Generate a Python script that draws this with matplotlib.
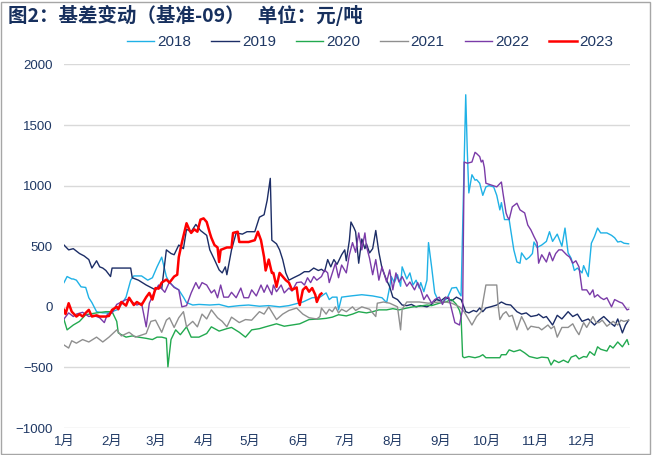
import matplotlib.pyplot as plt
from matplotlib.patches import Rectangle

plt.rcParams['font.family'] = ['Liberation Sans', 'Noto Sans CJK SC', 'DejaVu Sans']

months = ['1月', '2月', '3月', '4月', '5月', '6月', '7月', '8月', '9月', '10月', '11月', '12月']
month_start = [0, 31, 59, 90, 120, 151, 181, 212, 243, 273, 304, 334]

# day of year / basis value (元/吨)
d2018 = [0, 2, 5, 6, 8, 11, 14, 16, 18, 21, 25, 29, 35, 40, 43, 45, 50, 54, 57, 60, 63, 66, 68, 71, 74, 77,
         79, 83, 87, 94, 100, 106, 113, 119, 126, 132, 139, 145, 154, 160, 165, 169, 171, 173, 176, 177, 179,
         185, 192, 199, 205, 208, 210, 211, 213, 215, 217, 218, 221, 223, 225, 227, 229, 230, 232, 234, 235,
         237, 239, 241, 244, 247, 250, 253, 255, 256, 259, 260, 261, 263, 265, 266, 268, 270, 272, 274, 277,
         279, 281, 282, 284, 287, 288, 290, 292, 294, 295, 298, 300, 302, 303, 305, 308, 311, 313, 315, 318,
         321, 323, 325, 327, 329, 331, 334, 335, 338, 340, 342, 344, 346, 350, 353, 355, 357, 359, 361, 364]
v2018 = [200, 250, 230, 230, 220, 165, 160, 75, 35, -40, -50, -50, -20, 80, 220, 255, 255, 220, 240, 330, 410,
         250, 200, 165, 140, 80, 35, 15, 20, 15, 20, 0, 10, 15, 5, 10, 0, 10, 40, 75, 80, 115, 60, 80, 80, -25,
         80, 90, 100, 90, 75, 35, 165, 250, 200, 265, 170, 330, 230, 280, 180, 220, 155, 200, 125, 220, 530,
         330, 115, 60, 40, 70, 155, 160, 110, 90, 1750, 1290, 940, 1090, 1045, 1050, 1020, 920, 990, 1000, 990,
         920, 800, 860, 720, 720, 635, 470, 370, 360, 445, 390, 410, 440, 535, 490, 510, 540, 620, 540, 600,
         500, 650, 445, 400, 300, 320, 280, 340, 250, 525, 580, 650, 610, 610, 590, 570, 535, 540, 525, 520]

d2019 = [0, 3, 6, 10, 13, 16, 18, 21, 23, 25, 27, 30, 31, 43, 44, 48, 53, 56, 59, 61, 63, 66, 69, 71, 74, 77,
         79, 82, 85, 88, 92, 94, 97, 100, 102, 104, 105, 108, 111, 115, 118, 123, 126, 129, 131, 133, 134,
         137, 139, 141, 143, 145, 148, 152, 155, 158, 161, 164, 166, 168, 170, 172, 174, 176, 179, 181, 182,
         184, 185, 187, 188, 190, 192, 194, 195, 197, 199, 201, 203, 205, 208, 210, 212, 215, 218, 221, 224,
         227, 230, 234, 237, 240, 243, 246, 250, 253, 256, 259, 261, 264, 266, 268, 270, 272, 275, 279, 282,
         285, 288, 292, 295, 298, 301, 305, 306, 309, 311, 315, 318, 321, 325, 328, 331, 334, 338, 342, 345,
         348, 352, 355, 357, 360, 362, 364]
v2019 = [510, 470, 480, 440, 420, 390, 320, 380, 330, 320, 300, 250, 320, 320, 240, 220, 180, 160, 140, 170,
         150, 470, 440, 430, 510, 480, 640, 620, 680, 630, 590, 470, 390, 305, 280, 330, 265, 470, 610, 600,
         620, 620, 740, 760, 880, 1060, 550, 520, 470, 390, 280, 220, 240, 265, 290, 290, 320, 300, 310, 290,
         390, 330, 390, 350, 430, 470, 380, 550, 700, 650, 620, 360, 560, 480, 520, 445, 480, 630, 450, 320,
         220, 165, 80, 60, 15, 10, 20, 0, 10, 0, 20, 60, 50, 80, 50, 80, 60, -40, -50, -30, -40, -10, -40, -10,
         0, 15, 40, 20, 15, -40, -60, -50, -80, -70, -60, -90, -80, -150, -70, -100, -40, -80, -60, -120, -100,
         -150, -110, -80, -130, -160, -100, -215, -150, -110]

d2020 = [0, 2, 5, 6, 10, 14, 21, 27, 31, 34, 35, 37, 40, 44, 48, 53, 57, 60, 63, 66, 67, 69, 72, 75, 79, 82,
         87, 92, 95, 100, 105, 108, 113, 117, 121, 126, 130, 137, 142, 147, 152, 158, 165, 169, 173, 177, 182,
         186, 190, 195, 199, 203, 208, 212, 216, 221, 225, 229, 234, 237, 242, 246, 250, 253, 255, 256, 257,
         258, 261, 265, 268, 270, 272, 277, 281, 282, 285, 287, 290, 294, 297, 300, 305, 308, 312, 314, 316,
         319, 322, 325, 327, 330, 332, 335, 337, 339, 342, 344, 346, 350, 352, 354, 357, 360, 363, 364]
v2020 = [-105, -190, -160, -150, -120, -65, -50, -40, -40, -120, -215, -230, -250, -240, -250, -260, -270,
         -250, -250, -260, -495, -270, -190, -230, -165, -250, -250, -220, -165, -200, -180, -170, -210, -250,
         -190, -180, -165, -140, -160, -150, -140, -105, -100, -95, -85, -65, -75, -60, -40, -50, -40, -25,
         -25, -15, -25, -10, 0, 5, 15, 10, 30, 40, 60, 20, -30, -80, -410, -420, -410, -420, -410, -395, -420,
         -420, -420, -395, -395, -355, -370, -355, -380, -410, -425, -415, -420, -480, -440, -460, -440, -460,
         -415, -400, -430, -410, -415, -370, -400, -330, -350, -365, -320, -340, -290, -330, -270, -310]

d2021 = [0, 3, 5, 8, 12, 16, 21, 25, 29, 34, 37, 42, 46, 53, 56, 59, 63, 66, 68, 71, 74, 77, 79, 83, 86, 89,
         92, 95, 99, 102, 105, 108, 113, 117, 121, 126, 129, 132, 137, 141, 145, 150, 154, 158, 163, 165, 166,
         169, 171, 173, 175, 177, 179, 182, 186, 188, 192, 197, 201, 202, 206, 210, 215, 217, 218, 221, 229,
         235, 242, 246, 250, 255, 258, 263, 266, 269, 272, 279, 280, 281, 283, 285, 287, 289, 292, 295, 297,
         299, 301, 305, 306, 308, 312, 314, 316, 318, 321, 325, 328, 330, 332, 335, 337, 341, 343, 345, 347,
         350, 354, 357, 359, 361, 364]
v2021 = [-315, -340, -280, -300, -270, -290, -250, -290, -250, -190, -240, -210, -250, -220, -120, -110, -210,
         -110, -90, -170, -90, -40, -165, -120, -165, -60, -100, -25, -90, -120, -165, -85, -130, -105, -110,
         -40, -60, 0, -105, -60, -30, -10, -60, -90, -100, -80, -10, -60, -20, -40, 0, -50, -20, -40, 0, -30,
         0, -20, -80, 30, 40, 30, 0, -190, -20, 40, 40, 30, 40, 40, 30, 0, -40, -150, -80, -40, 180, 180, 0,
         -105, -60, -40, -80, -70, -190, -80, -130, -190, -160, -170, -170, -190, -150, -180, -160, -250, -170,
         -170, -140, -190, -230, -130, -170, -80, -130, -130, -110, -160, -120, -150, -110, -120, -110]

d2022 = [0, 3, 6, 8, 12, 16, 19, 23, 26, 28, 31, 34, 37, 40, 42, 45, 47, 50, 53, 55, 58, 61, 65, 68, 71, 74,
         76, 79, 82, 85, 87, 89, 92, 95, 97, 99, 101, 103, 106, 108, 111, 114, 116, 119, 121, 124, 127, 129,
         131, 134, 135, 137, 140, 142, 145, 147, 150, 153, 155, 157, 159, 161, 163, 166, 168, 170, 171, 173,
         175, 177, 179, 182, 184, 186, 188, 190, 192, 194, 195, 197, 199, 201, 203, 205, 208, 210, 212, 214,
         216, 218, 221, 223, 226, 228, 230, 232, 234, 237, 239, 242, 244, 246, 248, 250, 252, 255, 256, 257,
         258, 260, 263, 265, 266, 268, 269, 270, 271, 272, 279, 282, 283, 285, 286, 287, 289, 292, 294, 297,
         299, 301, 303, 305, 306, 308, 311, 313, 315, 317, 319, 321, 324, 326, 328, 330, 332, 334, 337, 339,
         341, 342, 344, 346, 348, 350, 353, 355, 358, 360, 363, 364]
v2022 = [-100, -50, -80, -60, -45, -80, -70, -90, -130, -60, -50, 20, 40, 60, 60, 30, 15, 30, -165, 30, 115,
         180, 120, 205, 160, 140, 0, 10, 115, 200, 150, 200, 180, 115, 140, 75, 180, 80, 80, 120, 75, 155, 75,
         75, 140, 90, 180, 120, 180, 100, 180, 125, 180, 115, 155, 130, 200, 205, 180, 240, 200, 250, 220, 250,
         305, 280, 200, 280, 360, 240, 345, 280, 430, 530, 450, 610, 470, 610, 500, 400, 265, 390, 220, 330,
         205, 305, 140, 280, 205, 250, 170, 205, 140, 200, 140, 60, 100, 30, 60, 80, 20, 75, 80, -25, -130,
         -150, -80, -20, 1195, 1185, 1195, 1275, 1265, 1240, 1195, 1210, 1150, 1020, 990, 1030, 940, 775, 740,
         720, 825, 855, 800, 775, 675, 635, 580, 530, 360, 430, 370, 450, 380, 440, 470, 470, 430, 410, 360,
         380, 330, 140, 140, 100, 140, 80, 100, 75, 60, 75, 0, 60, 40, 30, -25, -20]

d2023 = [0, 1, 3, 5, 8, 10, 12, 14, 16, 18, 21, 23, 25, 27, 29, 31, 34, 35, 37, 40, 42, 45, 47, 50, 53, 55,
         57, 59, 61, 63, 66, 68, 71, 73, 74, 76, 79, 81, 82, 84, 86, 88, 90, 92, 94, 95, 97, 99, 100, 101, 105,
         108, 109, 112, 113, 116, 119, 123, 125, 127, 129, 130, 132, 134, 135, 137, 139, 141, 143, 145, 147,
         150, 151, 152, 154, 156, 158, 160, 162, 163, 165, 166]
v2023 = [-25, -60, 30, -40, -80, -60, -80, -50, -25, -80, -70, -80, -80, -80, -75, -25, 0, -20, 40, 10, 75,
         15, 40, 15, 80, 115, 60, 155, 150, 200, 225, 200, 250, 265, 410, 530, 690, 630, 610, 640, 620, 720,
         730, 700, 610, 570, 510, 490, 370, 470, 490, 490, 610, 620, 535, 535, 535, 550, 620, 550, 410, 300,
         390, 280, 280, 165, 280, 250, 220, 200, 140, 160, 60, 15, 140, 165, 125, 155, 100, 40, 100, 110]

series = [
    ('2018', d2018, v2018, '#1FB1E6', 1.0),
    ('2019', d2019, v2019, '#1C2D66', 1.0),
    ('2020', d2020, v2020, '#22A94F', 1.0),
    ('2021', d2021, v2021, '#8F8F8F', 1.0),
    ('2022', d2022, v2022, '#7A3BA8', 1.0),
    ('2023', d2023, v2023, '#FF0000', 1.8),
]

fig = plt.figure(figsize=(6.53, 4.55), dpi=100)
ax = fig.add_axes([0.098, 0.0593, 0.867, 0.799])

for name, d, v, c, lw in series:
    ax.plot(d, v, color=c, lw=lw, label=name)

ax.set_xlim(0, 365)
ax.set_ylim(-1000, 2000)
ax.set_yticks(range(-1000, 2001, 500))
ax.set_xticks(month_start)
ax.set_xticklabels(months)
ax.grid(axis='y', color='#D9D9D9', lw=1)
ax.set_axisbelow(True)
for s in ax.spines.values():
    s.set_visible(False)
ax.tick_params(length=0, labelsize=9.5, labelcolor='#1F3864')
ax.tick_params(axis='y', pad=8)
ax.tick_params(axis='x', pad=6)

fig.legend(loc='center', bbox_to_anchor=(0.567, 0.907), ncol=6, frameon=False,
           fontsize=11, handlelength=1.8, handletextpad=0.2, columnspacing=1.3,
           labelcolor='#1F3864')

fig.text(0.012, 0.965, '图2：基差变动（基准-09）   单位：元/吨', fontsize=14, fontweight='bold',
         color='#17305E', va='center', ha='left', family=['Noto Sans CJK SC', 'DejaVu Sans'])

fig.patches.append(Rectangle((0.002, 0.002), 0.994, 0.994, transform=fig.transFigure,
                             fill=False, edgecolor='#A6A6A6', lw=1))

fig.savefig('out.png', dpi=100)
